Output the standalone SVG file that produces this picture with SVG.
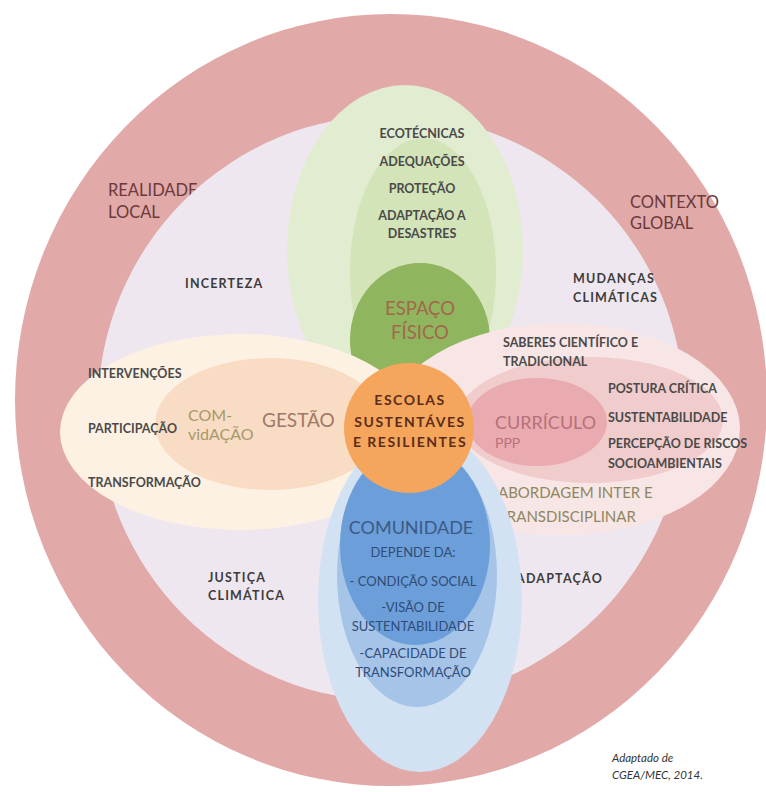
<svg xmlns="http://www.w3.org/2000/svg" width="766" height="792" viewBox="0 0 766 792">
<style>
text{font-family:Lato,"Liberation Sans",sans-serif}
.lbl{font-size:12.5px;font-weight:700;fill:#4a4a4a}
.sp{font-size:12.5px;font-weight:700;fill:#3c3c3c;letter-spacing:1.2px}
.ctx{font-size:16.5px;fill:#6a3a3c}
.blue{font-size:13px;fill:#2f4c78;text-anchor:middle}
.mid{text-anchor:middle}
.ctr{font-size:14px;font-weight:700;fill:#5a2e1a;letter-spacing:1.5px;text-anchor:middle}
</style>
<rect width="766" height="792" fill="#ffffff"/>
<g id="contexto-global">
<ellipse cx="391" cy="400" rx="376" ry="386" fill="#e2a9a9"/>
<text class="ctx" x="108" y="196">REALIDADE</text>
<text class="ctx" x="108" y="218">LOCAL</text>
<text class="ctx" x="630" y="208">CONTEXTO</text>
<text class="ctx" x="630" y="229">GLOBAL</text>
</g>
<g id="mudancas">
<circle cx="391" cy="408" r="293" fill="#efe7ef"/>
<text class="sp" x="185" y="288">INCERTEZA</text>
<text class="sp" x="573" y="283">MUDANÇAS</text>
<text class="sp" x="573" y="302">CLIMÁTICAS</text>
<text class="sp" x="208" y="582">JUSTIÇA</text>
<text class="sp" x="208" y="600">CLIMÁTICA</text>
<text class="sp" x="516" y="583">ADAPTAÇÃO</text>
</g>
<g id="espaco-fisico">
<ellipse cx="405" cy="250" rx="118" ry="165" fill="#e1ecd0"/>
<ellipse cx="423" cy="272" rx="73" ry="134" fill="#d3e4b8"/>
<ellipse cx="420" cy="340" rx="70" ry="77" fill="#8fb55e"/>
<text class="lbl mid" x="422" y="138">ECOTÉCNICAS</text>
<text class="lbl mid" x="422" y="166">ADEQUAÇÕES</text>
<text class="lbl mid" x="422" y="193">PROTEÇÃO</text>
<text class="lbl mid" x="422" y="220">ADAPTAÇÃO A</text>
<text class="lbl mid" x="422" y="238">DESASTRES</text>
<text class="mid" x="420" y="315" font-size="18.5" fill="#a2684a">ESPAÇO</text>
<text class="mid" x="420" y="339" font-size="18.5" fill="#a2684a">FÍSICO</text>
</g>
<g id="gestao">
<ellipse cx="240" cy="432" rx="180" ry="98" fill="#fdf1e3"/>
<ellipse cx="270" cy="424" rx="115" ry="66" fill="#f9dcc4"/>
<text class="lbl" x="88" y="378">INTERVENÇÕES</text>
<text class="lbl" x="88" y="433">PARTICIPAÇÃO</text>
<text class="lbl" x="88" y="487">TRANSFORMAÇÃO</text>
<text x="188" y="421" font-size="16" fill="#a49a6a">COM-</text>
<text x="188" y="440" font-size="16" fill="#a49a6a">vidAÇÃO</text>
<text x="262" y="427" font-size="19" fill="#a07868">GESTÃO</text>
</g>
<g id="curriculo">
<ellipse cx="562" cy="429" rx="178" ry="106" fill="#f8e6e6"/>
<ellipse cx="590" cy="420" rx="133" ry="63" fill="#f1cccc"/>
<ellipse cx="537" cy="422" rx="70" ry="44" fill="#e9abb0"/>
<text class="lbl" x="503" y="347">SABERES CIENTÍFICO E</text>
<text class="lbl" x="503" y="366">TRADICIONAL</text>
<text class="lbl" x="608" y="393">POSTURA CRÍTICA</text>
<text class="lbl" x="608" y="422">SUSTENTABILIDADE</text>
<text class="lbl" x="608" y="448">PERCEPÇÃO DE RISCOS</text>
<text class="lbl" x="608" y="468">SOCIOAMBIENTAIS</text>
<text x="495" y="429" font-size="18" fill="#b8707a">CURRÍCULO</text>
<text x="495" y="448" font-size="14" fill="#b8707a">PPP</text>
<text x="498" y="498" font-size="15" fill="#8e8660">ABORDAGEM INTER E</text>
<text x="498" y="522" font-size="15" fill="#8e8660">TRANSDISCIPLINAR</text>
</g>
<g id="comunidade">
<ellipse cx="420" cy="600" rx="102" ry="172" fill="#d3e2f3"/>
<ellipse cx="417" cy="575" rx="80" ry="132" fill="#a6c4e8"/>
<ellipse cx="415" cy="545" rx="75" ry="100" fill="#6c9fd9"/>
<text class="mid" x="411" y="534" font-size="18" fill="#3b5a88">COMUNIDADE</text>
<text class="blue" x="413" y="557">DEPENDE DA:</text>
<text class="blue" x="413" y="586">- CONDIÇÃO SOCIAL</text>
<text class="blue" x="413" y="612">-VISÃO DE</text>
<text class="blue" x="413" y="631">SUSTENTABILIDADE</text>
<text class="blue" x="413" y="658">-CAPACIDADE DE</text>
<text class="blue" x="413" y="677">TRANSFORMAÇÃO</text>
</g>
<g id="escolas">
<circle cx="409" cy="428" r="65" fill="#f6a55c"/>
<text class="ctr" x="410" y="405">ESCOLAS</text>
<text class="ctr" x="410" y="427">SUSTENTÁVES</text>
<text class="ctr" x="410" y="447">E RESILIENTES</text>
</g>
<g id="fonte">
<text x="612" y="762" font-size="11.5" font-style="italic" fill="#333">Adaptado de</text>
<text x="612" y="779" font-size="11.5" font-style="italic" fill="#333">CGEA/MEC, 2014.</text>
</g>
<g id="connectors"/>
</svg>
